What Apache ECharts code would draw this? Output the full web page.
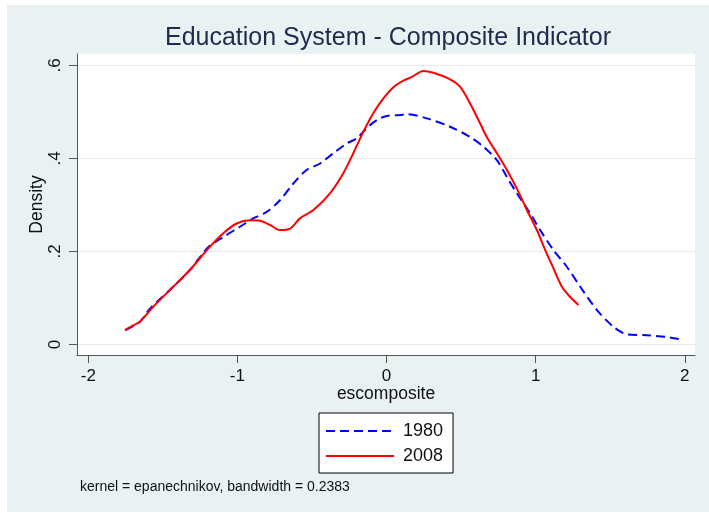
<!DOCTYPE html>
<html>
<head>
<meta charset="utf-8">
<script src="https://cdn.jsdelivr.net/npm/echarts@6/dist/echarts.min.js"></script>
<style>
html,body{margin:0;padding:0;background:#fff;}
#c{width:709px;height:513px;}
</style>
</head>
<body>
<div id="c"></div>
<script>
// ---- data ----
var titleText = 'Education System - Composite Indicator';
var noteText = 'kernel = epanechnikov, bandwidth = 0.2383';
var seriesNames = ['1980', '2008'];
var xTicks = [-2, -1, 0, 1, 2];
var yTicks = [0, 0.2, 0.4, 0.6];

var x1980 = [-1.75, -1.654, -1.587, -1.431, -1.319, -1.196, -1.095, -0.983, -0.894, -0.804, -0.715, -0.625, -0.536, -0.446, -0.357, -0.267, -0.200, -0.133, -0.066, 0.001, 0.091, 0.136, 0.270, 0.426, 0.560, 0.650, 0.740, 0.807, 0.874, 0.963, 1.030, 1.119, 1.209, 1.299, 1.411, 1.522, 1.612, 1.746, 1.881, 1.970];
var y1980 = [0.031, 0.049, 0.077, 0.124, 0.160, 0.209, 0.231, 0.253, 0.271, 0.285, 0.310, 0.346, 0.375, 0.389, 0.411, 0.432, 0.443, 0.465, 0.482, 0.491, 0.493, 0.495, 0.486, 0.468, 0.446, 0.425, 0.396, 0.360, 0.325, 0.282, 0.246, 0.203, 0.167, 0.124, 0.074, 0.038, 0.022, 0.020, 0.016, 0.011];

var x2008 = [-1.755, -1.699, -1.654, -1.565, -1.431, -1.319, -1.196, -1.095, -1.005, -0.916, -0.849, -0.782, -0.715, -0.648, -0.581, -0.491, -0.379, -0.290, -0.223, -0.156, -0.089, -0.021, 0.046, 0.113, 0.169, 0.247, 0.314, 0.426, 0.493, 0.560, 0.628, 0.672, 0.740, 0.807, 0.874, 0.941, 1.008, 1.064, 1.109, 1.176, 1.232, 1.287];
var y2008 = [0.031, 0.041, 0.049, 0.081, 0.124, 0.160, 0.206, 0.239, 0.260, 0.267, 0.266, 0.257, 0.246, 0.249, 0.271, 0.289, 0.325, 0.368, 0.411, 0.457, 0.497, 0.529, 0.553, 0.567, 0.575, 0.588, 0.584, 0.570, 0.554, 0.518, 0.475, 0.446, 0.411, 0.375, 0.335, 0.289, 0.246, 0.203, 0.171, 0.124, 0.102, 0.085];

function zip(xs, ys) { return xs.map(function (x, i) { return [x, ys[i]]; }); }

var chart = echarts.init(document.getElementById('c'), null, {renderer: 'canvas'});
var font = 'Liberation Sans, Arial, sans-serif';
var option = {
  animation: false,
  backgroundColor: '#ffffff',
  graphic: [
    {type: 'rect', z: -10, silent: true, shape: {x: 7, y: 5, width: 702, height: 507}, style: {fill: '#e9f1f3'}},
    {type: 'text', z: 10, x: 388, y: 38, style: {text: titleText, fontFamily: font, fontSize: 25, fill: '#1e2b4c', align: 'center', verticalAlign: 'middle'}},
    {type: 'text', z: 10, x: 80, y: 487, style: {text: noteText, fontFamily: font, fontSize: 14, fill: '#111', align: 'left', verticalAlign: 'middle'}}
  ],
  grid: {left: 77, right: 14, top: 54, bottom: 158, show: true, backgroundColor: '#ffffff', borderWidth: 0, containLabel: false},
  xAxis: {
    type: 'value', min: -2.0758, max: 2.0684,
    name: 'escomposite', nameLocation: 'middle', nameGap: 30, nameMoveOverlap: false,
    nameTextStyle: {fontFamily: font, fontSize: 17.5, color: '#111'},
    axisLine: {show: true, onZero: false, lineStyle: {color: '#555', width: 1}},
    axisTick: {show: true, inside: false, length: 8, customValues: xTicks, lineStyle: {color: '#555'}},
    axisLabel: {customValues: xTicks, margin: 13, fontFamily: font, fontSize: 17, color: '#111', formatter: function (v) { return String(v); }},
    splitLine: {show: false}
  },
  yAxis: {
    type: 'value', min: -0.0226, max: 0.6243,
    name: 'Density', nameLocation: 'middle', nameGap: 31, nameRotate: 90, nameMoveOverlap: false,
    nameTextStyle: {fontFamily: font, fontSize: 17.5, color: '#111'},
    axisLine: {show: true, onZero: false, lineStyle: {color: '#555', width: 1}},
    axisTick: {show: true, inside: false, length: 8, customValues: yTicks, lineStyle: {color: '#555'}},
    axisLabel: {customValues: yTicks, rotate: 90, margin: 13, fontFamily: font, fontSize: 17, color: '#111',
      formatter: function (v) { return v === 0 ? '0' : String(+v.toFixed(1)).replace(/^0\./, '.'); }},
    splitLine: {show: true, lineStyle: {color: '#e3ebee', width: 1}}
  },
  legend: {
    orient: 'vertical', left: 319, top: 413,
    backgroundColor: '#ffffff', borderColor: '#000', borderWidth: 1, borderRadius: 0,
    padding: [9, 10, 8, 6], itemWidth: 68, itemHeight: 16, itemGap: 7,
    itemStyle: {opacity: 0},
    textStyle: {fontFamily: font, fontSize: 18, color: '#111', padding: [0, 0, 0, 4]},
    data: seriesNames
  },
  series: [
    {name: seriesNames[0], type: 'line', data: zip(x1980, y1980), symbol: 'none', smooth: 0.3,
      lineStyle: {color: '#0000ff', width: 2, type: [9, 5]}, itemStyle: {color: '#0000ff'}},
    {name: seriesNames[1], type: 'line', data: zip(x2008, y2008), symbol: 'none', smooth: 0.3,
      lineStyle: {color: '#ff0000', width: 2}, itemStyle: {color: '#ff0000'}}
  ]
};
chart.setOption(option);
</script>
</body>
</html>
